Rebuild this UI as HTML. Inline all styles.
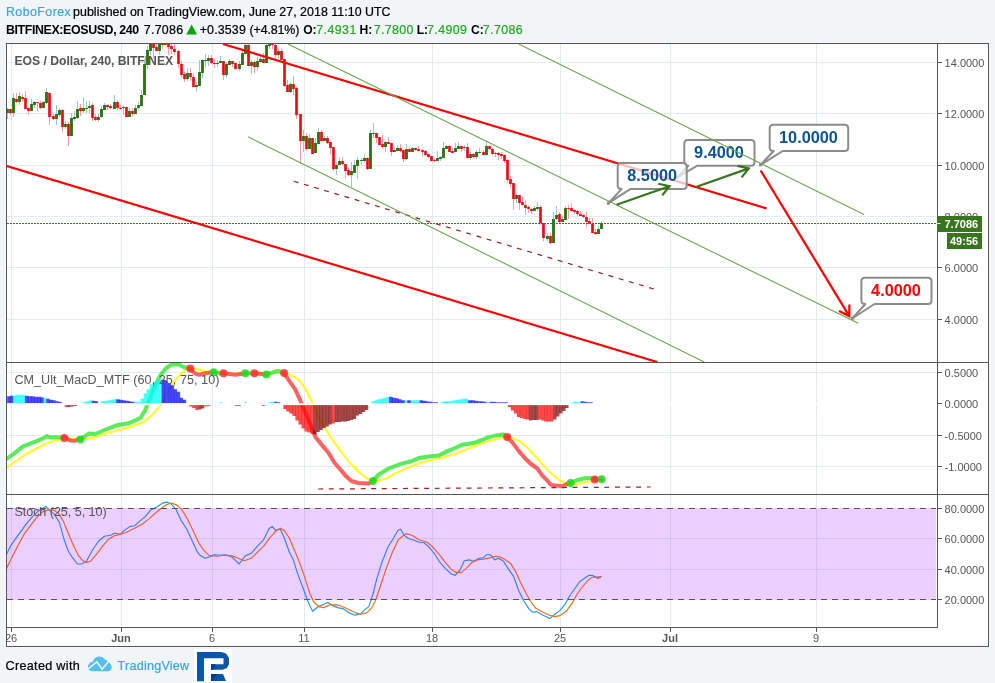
<!DOCTYPE html>
<html><head><meta charset="utf-8"><title>EOSUSD chart</title>
<style>
html,body{margin:0;padding:0}
body{width:995px;height:683px;background:#f1f5f8;overflow:hidden;position:relative;font-family:"Liberation Sans",sans-serif;color:#111}
svg{position:absolute;left:0;top:0}
svg text{font-family:"Liberation Sans",sans-serif}
.ax{font-size:11px;fill:#555}
.pt{font-size:13px;fill:#555}
.co{font-size:16.3px;font-weight:bold}
</style></head><body>
<svg width="995" height="683" viewBox="0 0 995 683">
<defs><clipPath id="c1"><rect x="7" y="44" width="930" height="318"/></clipPath><clipPath id="c2"><rect x="7" y="363" width="930" height="131"/></clipPath><clipPath id="c3"><rect x="7" y="495" width="930" height="132"/></clipPath><clipPath id="c4"><rect x="7" y="628" width="981" height="18"/></clipPath></defs><text id="h1a" x="5.9" y="15.7" font-size="12.4" fill="#3ca6de" stroke="#3ca6de" stroke-width="0.22" letter-spacing="0.449">RoboForex</text><text id="h1b" x="73.1" y="15.7" font-size="12.4" fill="#000" stroke="#000" stroke-width="0.22" letter-spacing="0.034">published on TradingView.com, June 27, 2018 11:10 UTC</text><text id="h2a" x="5.9" y="33.5" font-size="12.4" font-weight="bold" fill="#000" letter-spacing="-0.373">BITFINEX:EOSUSD, 240</text><text id="h2b" x="143.8" y="33.5" font-size="12.4" fill="#000" stroke="#000" stroke-width="0.22" letter-spacing="0.276">7.7086</text><text id="h2c" x="199.7" y="33.5" font-size="12.4" fill="#000" stroke="#000" stroke-width="0.22" letter-spacing="0.158">+0.3539</text><text id="h2d" x="249.6" y="33.5" font-size="12.4" fill="#000" stroke="#000" stroke-width="0.22" letter-spacing="-0.134">(+4.81%)</text><text id="h2e" x="303.2" y="33.5" font-size="12.1" font-weight="bold" fill="#000" letter-spacing="0.000">O:</text><text id="h2f" x="316.3" y="33.5" font-size="12.4" fill="#22a922" stroke="#22a922" stroke-width="0.22" letter-spacing="0.416">7.4931</text><text id="h2g" x="359.6" y="33.5" font-size="12.1" font-weight="bold" fill="#000" letter-spacing="0.000">H:</text><text id="h2h" x="373.7" y="33.5" font-size="12.4" fill="#22a922" stroke="#22a922" stroke-width="0.22" letter-spacing="0.356">7.7800</text><text id="h2i" x="416.7" y="33.5" font-size="12.1" font-weight="bold" fill="#000" letter-spacing="0.000">L:</text><text id="h2j" x="427.1" y="33.5" font-size="12.4" fill="#22a922" stroke="#22a922" stroke-width="0.22" letter-spacing="0.356">7.4909</text><text id="h2k" x="471.0" y="33.5" font-size="12.1" font-weight="bold" fill="#000" letter-spacing="0.000">C:</text><text id="h2l" x="482.8" y="33.5" font-size="12.4" fill="#22a922" stroke="#22a922" stroke-width="0.22" letter-spacing="0.376">7.7086</text><text id="ft" x="5.5" y="669.6" font-size="12.6" fill="#000" stroke="#000" stroke-width="0.22" letter-spacing="0.319">Created with</text><text id="tv" x="117.5" y="669.6" font-size="12.6" fill="#3ca6de" stroke="#3ca6de" stroke-width="0.22" letter-spacing="0.240">TradingView</text><path d="M186.3 34.5L191.65 24.4L197 34.5Z" fill="#0ca40c"/><rect x="5.5" y="42.5" width="984" height="605" fill="none" stroke="#fff" stroke-opacity="0.4" stroke-width="1"/>
<rect x="6.5" y="43.5" width="982" height="603" fill="#fff" stroke="#555" stroke-width="1"/>
<path d="M11.5 44V626M121.5 44V626M212.5 44V626M304.5 44V626M432.5 44V626M560.5 44V626M670.5 44V626M816.5 44V626M7 62.5H936M7 113.5H936M7 165.5H936M7 216.5H936M7 267.5H936M7 319.5H936M7 372.5H936M7 435.5H936M7 466.5H936M7 538.5H936M7 569.5H936" stroke="#e1ecf2" stroke-width="1" fill="none"/>
<g clip-path="url(#c1)">
<text id="t1" x="14.5" y="64.7" font-size="12.2" font-weight="bold" fill="#555" letter-spacing="-0.020">EOS / Dollar, 240, BITFINEX</text>
<path d="M7.5 108V119M13.5 93V117M19.5 92V105M31.5 99V111M34.5 101V108M43.5 101V108M46.5 88V104M56.5 105V125M59.5 108V117M65.5 121V129M71.5 113V136M74.5 111V121M77.5 101V119M83.5 97V113M86.5 101V113M89.5 101V113M98.5 114V122M101.5 106V118M104.5 103V110M114.5 95V109M123.5 105V115M129.5 108V117M135.5 105V114M138.5 102V110M141.5 90V106M144.5 59V95M147.5 46V69M150.5 43V55M159.5 43V55M165.5 43V45M187.5 68V81M196.5 82V92M199.5 60V86M202.5 59V78M205.5 54V67M208.5 55V66M217.5 60V67M220.5 56V63M226.5 62V78M229.5 59V65M239.5 61V71M242.5 49V65M245.5 43V54M251.5 60V74M257.5 57V71M260.5 56V62M266.5 43V63M269.5 43V49M278.5 49V58M290.5 82V93M303.5 130V152M309.5 134V149M315.5 138V153M318.5 128V144M324.5 136V141M336.5 162V175M339.5 157V165M351.5 162V187M354.5 160V173M357.5 157V179M361.5 158V165M364.5 154V163M370.5 130V169M373.5 123V138M385.5 141V152M394.5 147V152M397.5 145V151M406.5 144V160M412.5 147V152M437.5 151V161M440.5 156V161M443.5 142V158M446.5 145V149M455.5 143V152M458.5 142V149M464.5 145V151M470.5 152V160M476.5 150V159M479.5 148V154M486.5 142V155M516.5 194V203M534.5 206V211M537.5 202V211M547.5 233V241M553.5 212V243M556.5 206V220M562.5 216V222M565.5 206V220M598.5 226V234M601.5 221V229" stroke="#9fc5d3" stroke-width="1" fill="none"/>
<path d="M10.5 109V115M16.5 93V103M22.5 94V101M25.5 91V109M28.5 108V115M37.5 102V111M40.5 101V109M49.5 92V125M53.5 114V120M62.5 109V132M68.5 122V146M80.5 104V116M92.5 103V121M95.5 114V121M107.5 104V110M110.5 104V109M117.5 100V110M120.5 105V110M126.5 106V117M132.5 108V116M153.5 43V59M156.5 43V51M162.5 43V49M168.5 43V55M171.5 43V54M174.5 43V55M178.5 50V68M181.5 61V78M184.5 72V82M190.5 68V81M193.5 73V87M211.5 55V64M214.5 59V68M223.5 61V80M232.5 61V67M235.5 63V69M248.5 43V66M254.5 61V73M263.5 53V63M272.5 43V49M275.5 43V59M281.5 48V60M284.5 59V87M287.5 80V92M293.5 76V95M296.5 87V119M300.5 114V164M306.5 133V151M312.5 138V154M321.5 130V141M327.5 136V144M330.5 142V154M333.5 147V171M342.5 157V165M345.5 164V178M348.5 168V176M367.5 157V170M376.5 133V143M379.5 137V145M382.5 135V149M388.5 137V144M391.5 143V156M400.5 144V152M403.5 150V162M409.5 147V152M415.5 148V151M418.5 146V151M422.5 149V156M425.5 150V156M428.5 154V158M431.5 156V161M434.5 159V162M449.5 145V152M452.5 148V153M461.5 146V152M467.5 143V158M473.5 153V158M483.5 150V155M489.5 146V150M492.5 148V155M495.5 152V157M498.5 152V160M501.5 152V159M504.5 154V163M507.5 159V183M510.5 176V188M513.5 183V210M519.5 195V210M522.5 196V205M525.5 200V215M528.5 205V213M531.5 208V214M540.5 205V225M543.5 223V241M550.5 233V244M559.5 212V223M568.5 205V219M571.5 203V211M574.5 210V214M577.5 210V216M580.5 211V216M583.5 214V218M586.5 211V227M589.5 218V224M592.5 218V233M595.5 229V235" stroke="#f8a0aa" stroke-width="1" fill="none"/>
<path d="M6 109h3v4h-3zM12 98h3v15h-3zM18 96h3v6h-3zM30 104h3v7h-3zM33 102h3v3h-3zM42 102h3v6h-3zM45 92h3v11h-3zM55 114h3v5h-3zM58 110h3v5h-3zM64 124h3v3h-3zM70 118h3v18h-3zM73 117h3v2h-3zM76 109h3v9h-3zM82 108h3v3h-3zM85 108h3v1h-3zM88 106h3v2h-3zM97 117h3v3h-3zM100 109h3v8h-3zM103 105h3v5h-3zM113 102h3v7h-3zM122 107h3v1h-3zM128 111h3v6h-3zM134 108h3v6h-3zM137 105h3v3h-3zM140 95h3v11h-3zM143 64h3v31h-3zM146 50h3v15h-3zM149 43h3v8h-3zM158 43h3v8h-3zM164 43h3v2h-3zM186 73h3v6h-3zM195 85h3v2h-3zM198 72h3v14h-3zM201 60h3v13h-3zM204 60h3v1h-3zM207 58h3v3h-3zM216 63h3v1h-3zM219 61h3v2h-3zM225 64h3v11h-3zM228 61h3v4h-3zM238 64h3v5h-3zM241 53h3v12h-3zM244 45h3v9h-3zM250 62h3v4h-3zM256 61h3v6h-3zM259 59h3v3h-3zM265 45h3v18h-3zM268 43h3v3h-3zM277 51h3v4h-3zM289 84h3v8h-3zM302 136h3v5h-3zM308 138h3v11h-3zM314 143h3v10h-3zM317 132h3v12h-3zM323 138h3v3h-3zM335 165h3v4h-3zM338 161h3v4h-3zM350 171h3v4h-3zM353 165h3v8h-3zM356 160h3v6h-3zM360 160h3v1h-3zM363 158h3v3h-3zM369 133h3v36h-3zM372 133h3v1h-3zM384 142h3v5h-3zM393 150h3v2h-3zM396 148h3v3h-3zM405 149h3v10h-3zM411 148h3v4h-3zM436 158h3v3h-3zM439 157h3v2h-3zM442 148h3v10h-3zM445 146h3v3h-3zM454 148h3v4h-3zM457 146h3v3h-3zM463 147h3v1h-3zM469 154h3v4h-3zM475 152h3v5h-3zM478 152h3v1h-3zM485 146h3v9h-3zM515 195h3v4h-3zM533 208h3v3h-3zM536 207h3v2h-3zM546 236h3v3h-3zM552 219h3v24h-3zM555 215h3v4h-3zM561 219h3v3h-3zM564 208h3v12h-3zM597 229h3v5h-3zM600 223h3v6h-3z" fill="#3b7d20"/>
<path d="M9 109h3v4h-3zM15 99h3v3h-3zM21 97h3v2h-3zM24 98h3v11h-3zM27 108h3v3h-3zM36 102h3v1h-3zM39 103h3v5h-3zM48 93h3v24h-3zM52 116h3v3h-3zM61 110h3v17h-3zM67 124h3v12h-3zM79 108h3v3h-3zM91 105h3v13h-3zM94 117h3v3h-3zM106 105h3v2h-3zM109 106h3v2h-3zM116 102h3v6h-3zM119 108h3v1h-3zM125 107h3v10h-3zM131 111h3v3h-3zM152 43h3v5h-3zM155 47h3v4h-3zM161 43h3v2h-3zM167 43h3v4h-3zM170 46h3v3h-3zM173 49h3v3h-3zM177 51h3v13h-3zM180 64h3v11h-3zM183 74h3v5h-3zM189 73h3v4h-3zM192 77h3v10h-3zM210 58h3v5h-3zM213 63h3v1h-3zM222 61h3v14h-3zM231 61h3v3h-3zM234 63h3v6h-3zM247 45h3v21h-3zM253 62h3v5h-3zM262 59h3v4h-3zM271 43h3v2h-3zM274 45h3v10h-3zM280 51h3v9h-3zM283 59h3v27h-3zM286 85h3v7h-3zM292 84h3v5h-3zM295 88h3v27h-3zM299 114h3v27h-3zM305 136h3v13h-3zM311 138h3v16h-3zM320 132h3v9h-3zM326 138h3v5h-3zM329 142h3v6h-3zM332 147h3v22h-3zM341 161h3v3h-3zM344 164h3v7h-3zM347 170h3v5h-3zM366 158h3v11h-3zM375 133h3v5h-3zM378 137h3v8h-3zM381 144h3v3h-3zM387 142h3v2h-3zM390 143h3v9h-3zM399 148h3v3h-3zM402 150h3v9h-3zM408 149h3v3h-3zM414 148h3v2h-3zM417 149h3v2h-3zM421 150h3v2h-3zM424 151h3v4h-3zM427 154h3v3h-3zM430 156h3v5h-3zM433 160h3v1h-3zM448 146h3v6h-3zM451 151h3v2h-3zM460 146h3v3h-3zM466 147h3v11h-3zM472 154h3v3h-3zM482 152h3v3h-3zM488 146h3v3h-3zM491 149h3v5h-3zM494 153h3v1h-3zM497 153h3v2h-3zM500 154h3v2h-3zM503 155h3v6h-3zM506 160h3v20h-3zM509 179h3v5h-3zM512 183h3v16h-3zM518 195h3v8h-3zM521 202h3v3h-3zM524 205h3v3h-3zM527 207h3v2h-3zM530 209h3v2h-3zM539 207h3v16h-3zM542 223h3v15h-3zM549 236h3v7h-3zM558 214h3v8h-3zM567 208h3v1h-3zM570 208h3v3h-3zM573 210h3v2h-3zM576 211h3v3h-3zM579 214h3v2h-3zM582 215h3v2h-3zM585 217h3v5h-3zM588 221h3v3h-3zM591 224h3v9h-3zM594 232h3v2h-3z" fill="#f9303f"/>
<path d="M7.5 109V113M13.5 98V113M19.5 96V102M31.5 104V111M34.5 102V105M43.5 102V108M46.5 92V103M56.5 114V119M59.5 110V115M65.5 124V127M71.5 118V136M74.5 117V119M77.5 109V118M83.5 108V111M86.5 108V109M89.5 106V108M98.5 117V120M101.5 109V117M104.5 105V110M114.5 102V109M123.5 107V108M129.5 111V117M135.5 108V114M138.5 105V108M141.5 95V106M144.5 64V95M147.5 50V65M150.5 43V51M159.5 43V51M165.5 43V45M187.5 73V79M196.5 85V87M199.5 72V86M202.5 60V73M205.5 60V61M208.5 58V61M217.5 63V64M220.5 61V63M226.5 64V75M229.5 61V65M239.5 64V69M242.5 53V65M245.5 45V54M251.5 62V66M257.5 61V67M260.5 59V62M266.5 45V63M269.5 43V46M278.5 51V55M290.5 84V92M303.5 136V141M309.5 138V149M315.5 143V153M318.5 132V144M324.5 138V141M336.5 165V169M339.5 161V165M351.5 171V175M354.5 165V173M357.5 160V166M361.5 160V161M364.5 158V161M370.5 133V169M373.5 133V134M385.5 142V147M394.5 150V152M397.5 148V151M406.5 149V159M412.5 148V152M437.5 158V161M440.5 157V159M443.5 148V158M446.5 146V149M455.5 148V152M458.5 146V149M464.5 147V148M470.5 154V158M476.5 152V157M479.5 152V153M486.5 146V155M516.5 195V199M534.5 208V211M537.5 207V209M547.5 236V239M553.5 219V243M556.5 215V219M562.5 219V222M565.5 208V220M598.5 229V234M601.5 223V229" stroke="#2f6f17" stroke-width="1" fill="none"/>
<path d="M10.5 109V113M16.5 99V102M22.5 97V99M25.5 98V109M28.5 108V111M37.5 102V103M40.5 103V108M49.5 93V117M53.5 116V119M62.5 110V127M68.5 124V136M80.5 108V111M92.5 105V118M95.5 117V120M107.5 105V107M110.5 106V108M117.5 102V108M120.5 108V109M126.5 107V117M132.5 111V114M153.5 43V48M156.5 47V51M162.5 43V45M168.5 43V47M171.5 46V49M174.5 49V52M178.5 51V64M181.5 64V75M184.5 74V79M190.5 73V77M193.5 77V87M211.5 58V63M214.5 63V64M223.5 61V75M232.5 61V64M235.5 63V69M248.5 45V66M254.5 62V67M263.5 59V63M272.5 43V45M275.5 45V55M281.5 51V60M284.5 59V86M287.5 85V92M293.5 84V89M296.5 88V115M300.5 114V141M306.5 136V149M312.5 138V154M321.5 132V141M327.5 138V143M330.5 142V148M333.5 147V169M342.5 161V164M345.5 164V171M348.5 170V175M367.5 158V169M376.5 133V138M379.5 137V145M382.5 144V147M388.5 142V144M391.5 143V152M400.5 148V151M403.5 150V159M409.5 149V152M415.5 148V150M418.5 149V151M422.5 150V152M425.5 151V155M428.5 154V157M431.5 156V161M434.5 160V161M449.5 146V152M452.5 151V153M461.5 146V149M467.5 147V158M473.5 154V157M483.5 152V155M489.5 146V149M492.5 149V154M495.5 153V154M498.5 153V155M501.5 154V156M504.5 155V161M507.5 160V180M510.5 179V184M513.5 183V199M519.5 195V203M522.5 202V205M525.5 205V208M528.5 207V209M531.5 209V211M540.5 207V223M543.5 223V238M550.5 236V243M559.5 214V222M568.5 208V209M571.5 208V211M574.5 210V212M577.5 211V214M580.5 214V216M583.5 215V217M586.5 217V222M589.5 221V224M592.5 224V233M595.5 232V234" stroke="#ff0000" stroke-width="1" fill="none"/>
<path d="M7 223.5H936" stroke="#38761d" stroke-width="1" stroke-dasharray="2 1" fill="none"/>
<path d="M293.7 181.2L657.2 290" stroke="#a61c1c" stroke-width="1.2" stroke-dasharray="4.9 5.7" fill="none"/>
<path d="M223 44L766.6 208.4M7 166.1L657.2 362" stroke="#ff0000" stroke-width="2.15" fill="none"/>
<path d="M687.8 140.1H751Q754.5 140.1 754.5 143.6V162.2Q754.5 165.7 751 165.7H697.3L677 177.6L688.3 165.7H687.8Q684.3 165.7 684.3 162.2V143.6Q684.3 140.1 687.8 140.1Z" fill="rgba(255,255,255,0.72)" stroke="#8c8c8c" stroke-width="2" stroke-linejoin="round"/><rect x="675.5" y="176.1" width="3" height="3" fill="#8c8c8c"/><text x="719" y="158" text-anchor="middle" class="co" fill="#0b5394" id="co2">9.4000</text>
<path d="M621.2 162.9H683.2Q686.7 162.9 686.7 166.4V185.4Q686.7 188.9 683.2 188.9H630.7L608.4 203.2L621.7 188.9H621.2Q617.7 188.9 617.7 185.4V166.4Q617.7 162.9 621.2 162.9Z" fill="rgba(255,255,255,0.72)" stroke="#8c8c8c" stroke-width="2" stroke-linejoin="round"/><rect x="606.9" y="201.7" width="3" height="3" fill="#8c8c8c"/><text x="652.2" y="181" text-anchor="middle" class="co" fill="#0b5394" id="co1">8.5000</text>
<path d="M773.2 124.8H844.7Q848.2 124.8 848.2 128.3V147.5Q848.2 151 844.7 151H782.7L760.5 164.9L773.7 151H773.2Q769.7 151 769.7 147.5V128.3Q769.7 124.8 773.2 124.8Z" fill="rgba(255,255,255,0.72)" stroke="#8c8c8c" stroke-width="2" stroke-linejoin="round"/><rect x="759" y="163.4" width="3" height="3" fill="#8c8c8c"/><text x="808.5" y="143" text-anchor="middle" class="co" fill="#0b5394" id="co3">10.0000</text>
<path d="M864.9 277.7H928Q931.5 277.7 931.5 281.2V300.5Q931.5 304 928 304H874.4L852.2 318.5L865.4 304H864.9Q861.4 304 861.4 300.5V281.2Q861.4 277.7 864.9 277.7Z" fill="rgba(255,255,255,0.72)" stroke="#8c8c8c" stroke-width="2" stroke-linejoin="round"/><rect x="850.7" y="317" width="3" height="3" fill="#8c8c8c"/><text x="896" y="296" text-anchor="middle" class="co" fill="#ff0000" id="co4">4.0000</text>
<path d="M518.7 44L864 214.5M287.9 44L858.2 323.3M248 136.8L704.2 362" stroke="#6aa84f" stroke-width="1.1" fill="none"/>
<path d="M616.6 204.7L669.5 186.2M662.3 195.2L669.5 186.2L658.3 183.7" stroke="#38761d" stroke-width="2.2" fill="none"/>
<path d="M696.6 186.8L748.8 168.4M741.6 177.4L748.8 168.4L737.6 165.9" stroke="#38761d" stroke-width="2.2" fill="none"/>
<path d="M760.7 170.5L849.3 316.1M839 310.9L849.3 316.1L849.4 304.6" stroke="#ff0000" stroke-width="2.2" fill="none"/>
</g>
<g clip-path="url(#c2)">
<path d="M6 468.1L26.1 454L46.2 443.4L62.3 439L76.4 438.4L92.4 438L106.5 433.4L122.6 429.3L142.7 422.7L150.7 416.3L160.8 405.2L167.7 392.2L175.2 380.1L182.8 371.8L188.8 368.8L196.3 368.8L205.4 371.3L212.9 372.6L223.5 372.9L235.5 373.8L250.6 373.8L265.7 373.8L274 372.8L282 372.5L290.1 374.5L298.1 379.1L305.2 388.1L311.2 400.2L318.2 416.3L326.3 430.3L334.3 442.4L342.4 453.5L350.4 463.5L358.4 471.5L366.5 478.2L372.5 481.6L378.5 480.6L386.6 478.2L394.6 473.6L406.7 468.1L418.7 463.5L430.8 460.1L442.9 457.5L454.9 454.1L463 450.8L472.1 446.8L484.1 442.4L496.2 439.4L503.2 437L512.3 438L520.3 441.4L528.3 448.4L536.4 457.5L544.4 466.5L552.5 474.6L560.5 480.6L566.5 483.6L572.6 484.6L580.6 483.6L588.6 481.6L594.7 480.2L601.7 479.6" stroke="#ffff00" stroke-width="2" fill="none" stroke-linejoin="round" stroke-opacity="0.92"/>
<path d="M6 459.5L14 453.5L23 446.4L36 441.4L45 437.4L47 436L49 437L64.3 437.4" stroke="#30ea30" stroke-width="4" fill="none" stroke-linejoin="round" stroke-linecap="round" stroke-opacity="0.8"/>
<path d="M64.3 437.4L70.3 440.4L74.3 440.8L80.4 439" stroke="#ff3b3b" stroke-width="4" fill="none" stroke-linejoin="round" stroke-linecap="round" stroke-opacity="0.8"/>
<path d="M80.4 439L89.4 433.4L95.4 434L104.5 430L116.6 425.3L128.6 423.3L136 420L140.6 417.8L145.1 410.2L149.6 399.7L154.1 387.6L160.2 375.6L166.2 368L171.5 364.7L178.2 364.3L184.3 367.3L190.3 368.8" stroke="#30ea30" stroke-width="4" fill="none" stroke-linejoin="round" stroke-linecap="round" stroke-opacity="0.8"/>
<path d="M190.3 368.8L194.8 373.3L199.4 374.8L205.4 373.3L212.9 372.3L213.7 372.4" stroke="#ff3b3b" stroke-width="4" fill="none" stroke-linejoin="round" stroke-linecap="round" stroke-opacity="0.8"/>
<path d="M213.7 372.4L223.5 373.3" stroke="#30ea30" stroke-width="4" fill="none" stroke-linejoin="round" stroke-linecap="round" stroke-opacity="0.8"/>
<path d="M223.5 373.3L235.5 374.8L245.3 373.3" stroke="#ff3b3b" stroke-width="4" fill="none" stroke-linejoin="round" stroke-linecap="round" stroke-opacity="0.8"/>
<path d="M245.3 373.3L254.4 373.3" stroke="#30ea30" stroke-width="4" fill="none" stroke-linejoin="round" stroke-linecap="round" stroke-opacity="0.8"/>
<path d="M254.4 373.3L266.4 374.4" stroke="#ff3b3b" stroke-width="4" fill="none" stroke-linejoin="round" stroke-linecap="round" stroke-opacity="0.8"/>
<path d="M266.4 374.4L274.7 371.8L278 371L284.1 373.1" stroke="#30ea30" stroke-width="4" fill="none" stroke-linejoin="round" stroke-linecap="round" stroke-opacity="0.8"/>
<path d="M284.1 373.1L290.1 382.1L295.1 389.1L300.2 400.2L305.2 412.3L310.2 424.3L315.2 436.4L322.3 445.4L328.3 452.5L334.3 462.5L340.4 469.5L346.4 476.6L351.4 481L358.4 483L368.5 483.6L372.9 481" stroke="#ff3b3b" stroke-width="4" fill="none" stroke-linejoin="round" stroke-linecap="round" stroke-opacity="0.8"/>
<path d="M372.9 481L378.5 474.6L388.6 468.5L400.7 463.9L410.7 461.5L418.7 458.1L428.8 456.5L438.8 455.5L446.9 451.4L454.9 448L463 444.4L468 444L474.1 442.8L482.1 440L488.1 437.4L496.2 435.4L503.2 434.4L507.2 437" stroke="#30ea30" stroke-width="4" fill="none" stroke-linejoin="round" stroke-linecap="round" stroke-opacity="0.8"/>
<path d="M507.2 437L512.3 442.4L518.3 450.4L524.3 457.5L530.4 463.5L537.4 468.5L542.4 475.6L546.4 479.6L550.5 484.6L556.5 485.6L562.5 486.2L566.5 484.2L570.6 483" stroke="#ff3b3b" stroke-width="4" fill="none" stroke-linejoin="round" stroke-linecap="round" stroke-opacity="0.8"/>
<path d="M570.6 483L576.6 480.2L584.6 478.2L590.7 478L594.7 479.6" stroke="#30ea30" stroke-width="4" fill="none" stroke-linejoin="round" stroke-linecap="round" stroke-opacity="0.8"/>
<path d="M594.7 479.6L601.7 479.2" stroke="#ff3b3b" stroke-width="4" fill="none" stroke-linejoin="round" stroke-linecap="round" stroke-opacity="0.8"/>
<circle cx="64.3" cy="438" r="4" fill="#ff3030" fill-opacity="0.85"/>
<circle cx="80.4" cy="439.4" r="4" fill="#1fdc1f" fill-opacity="0.85"/>
<circle cx="190.3" cy="368.6" r="4" fill="#ff3030" fill-opacity="0.85"/>
<circle cx="213.7" cy="372.3" r="4" fill="#1fdc1f" fill-opacity="0.85"/>
<circle cx="223.5" cy="373.3" r="4" fill="#ff3030" fill-opacity="0.85"/>
<circle cx="245.3" cy="373.3" r="4" fill="#1fdc1f" fill-opacity="0.85"/>
<circle cx="254.4" cy="373.3" r="4" fill="#ff3030" fill-opacity="0.85"/>
<circle cx="266.4" cy="374.4" r="4" fill="#1fdc1f" fill-opacity="0.85"/>
<circle cx="284.1" cy="373.1" r="4" fill="#ff3030" fill-opacity="0.85"/>
<circle cx="372.9" cy="481" r="4" fill="#1fdc1f" fill-opacity="0.85"/>
<circle cx="507.2" cy="437" r="4" fill="#ff3030" fill-opacity="0.85"/>
<circle cx="570.6" cy="483" r="4" fill="#1fdc1f" fill-opacity="0.85"/>
<circle cx="594.7" cy="479.6" r="4" fill="#ff3030" fill-opacity="0.85"/>
<circle cx="601.7" cy="479.2" r="4" fill="#1fdc1f" fill-opacity="0.85"/>
<path d="M13.2 395.3h3.035v8h-3.035zM16.2 394.8h3.035v8.5h-3.035zM19.2 394.8h3.035v8.5h-3.035zM22.3 394.8h3.035v8.5h-3.035zM43.5 397.8h3.035v5.5h-3.035zM83 401.8h3.035v1.5h-3.035zM86 401.3h3.035v2h-3.035zM89 400.3h3.035v3h-3.035zM101.2 401.3h3.035v2h-3.035zM104.2 400.8h3.035v2.5h-3.035zM107.3 400.3h3.035v3h-3.035zM110.3 399.8h3.035v3.5h-3.035zM113.3 399.3h3.035v4h-3.035zM134.6 401.8h3.035v1.5h-3.035zM137.6 401.8h3.035v1.5h-3.035zM140.6 398.8h3.035v4.5h-3.035zM143.7 393.3h3.035v10h-3.035zM146.7 389.3h3.035v14h-3.035zM149.7 384.3h3.035v19h-3.035zM152.8 381.8h3.035v21.5h-3.035zM155.8 380.3h3.035v23h-3.035zM158.8 379.8h3.035v23.5h-3.035zM219.6 402.3h3.035v1h-3.035zM243.8 402.3h3.035v1h-3.035zM268.1 402.3h3.035v1h-3.035zM271.1 401.8h3.035v1.5h-3.035zM371.3 401.3h3.035v2h-3.035zM374.3 400.3h3.035v3h-3.035zM377.4 399.3h3.035v4h-3.035zM380.4 398.8h3.035v4.5h-3.035zM383.4 397.8h3.035v5.5h-3.035zM386.5 396.8h3.035v6.5h-3.035zM404.7 400.3h3.035v3h-3.035zM410.8 400.3h3.035v3h-3.035zM413.8 400.3h3.035v3h-3.035zM416.8 400.3h3.035v3h-3.035zM441.1 401.8h3.035v1.5h-3.035zM444.1 401.3h3.035v2h-3.035zM447.2 401.3h3.035v2h-3.035zM450.2 400.8h3.035v2.5h-3.035zM453.2 400.3h3.035v3h-3.035zM456.3 399.8h3.035v3.5h-3.035zM459.3 399.3h3.035v4h-3.035zM462.4 398.8h3.035v4.5h-3.035zM465.4 398.8h3.035v4.5h-3.035zM486.6 401.8h3.035v1.5h-3.035zM571.6 402.3h3.035v1h-3.035zM574.6 401.8h3.035v1.5h-3.035zM577.7 401.8h3.035v1.5h-3.035z" fill="#00ffff" fill-opacity="0.7"/>
<path d="M13.2 395.8V403.3M16.2 395.3V403.3M19.2 394.8V403.3M22.3 394.8V403.3M43.5 397.8V403.3M89 401.3V403.3M104.2 401.3V403.3M107.3 400.8V403.3M110.3 400.3V403.3M113.3 399.8V403.3M143.7 398.8V403.3M146.7 393.3V403.3M149.7 389.3V403.3M152.8 384.3V403.3M155.8 381.8V403.3M158.8 380.3V403.3M374.3 401.3V403.3M377.4 400.3V403.3M380.4 399.3V403.3M383.4 398.8V403.3M386.5 397.8V403.3M404.7 400.3V403.3M410.8 400.3V403.3M413.8 400.3V403.3M416.8 400.3V403.3M447.2 401.3V403.3M450.2 401.3V403.3M453.2 400.8V403.3M456.3 400.3V403.3M459.3 399.8V403.3M462.4 399.3V403.3M465.4 398.8V403.3" stroke="#00ffff" stroke-opacity="0.55" stroke-width="0.7" fill="none"/>
<path d="M7.1 396.3h3.035v7h-3.035zM10.1 395.8h3.035v7.5h-3.035zM25.3 395.8h3.035v7.5h-3.035zM28.3 396.3h3.035v7h-3.035zM31.4 396.3h3.035v7h-3.035zM34.4 396.8h3.035v6.5h-3.035zM37.5 396.8h3.035v6.5h-3.035zM40.5 397.3h3.035v6h-3.035zM46.6 398.8h3.035v4.5h-3.035zM49.6 399.8h3.035v3.5h-3.035zM52.6 400.3h3.035v3h-3.035zM55.7 401.3h3.035v2h-3.035zM58.7 401.8h3.035v1.5h-3.035zM92.1 400.8h3.035v2.5h-3.035zM95.1 401.3h3.035v2h-3.035zM116.4 399.3h3.035v4h-3.035zM119.4 399.8h3.035v3.5h-3.035zM122.4 400.3h3.035v3h-3.035zM125.5 400.8h3.035v2.5h-3.035zM128.5 401.3h3.035v2h-3.035zM131.5 401.8h3.035v1.5h-3.035zM161.9 379.8h3.035v23.5h-3.035zM164.9 380.3h3.035v23h-3.035zM168 383.3h3.035v20h-3.035zM171 385.3h3.035v18h-3.035zM174 389.3h3.035v14h-3.035zM177.1 391.8h3.035v11.5h-3.035zM180.1 397.8h3.035v5.5h-3.035zM183.1 399.8h3.035v3.5h-3.035zM274.2 401.8h3.035v1.5h-3.035zM277.2 402.3h3.035v1h-3.035zM389.5 396.8h3.035v6.5h-3.035zM392.5 397.8h3.035v5.5h-3.035zM395.6 398.3h3.035v5h-3.035zM398.6 399.3h3.035v4h-3.035zM401.7 400.3h3.035v3h-3.035zM407.7 400.3h3.035v3h-3.035zM419.9 400.3h3.035v3h-3.035zM422.9 400.8h3.035v2.5h-3.035zM425.9 401.3h3.035v2h-3.035zM429 401.8h3.035v1.5h-3.035zM432 402.3h3.035v1h-3.035zM435 402.3h3.035v1h-3.035zM468.4 400.3h3.035v3h-3.035zM471.5 400.3h3.035v3h-3.035zM474.5 400.8h3.035v2.5h-3.035zM477.5 401.3h3.035v2h-3.035zM480.6 401.3h3.035v2h-3.035zM483.6 401.8h3.035v1.5h-3.035zM489.7 401.8h3.035v1.5h-3.035zM492.7 401.8h3.035v1.5h-3.035zM495.7 402.3h3.035v1h-3.035zM498.8 402.3h3.035v1h-3.035zM501.8 402.3h3.035v1h-3.035zM504.8 402.3h3.035v1h-3.035zM580.7 401.3h3.035v2h-3.035zM583.8 401.8h3.035v1.5h-3.035zM586.8 402.3h3.035v1h-3.035zM589.8 402.3h3.035v1h-3.035z" fill="#0000ff" fill-opacity="0.7"/>
<path d="M10.1 396.3V403.3M25.3 395.8V403.3M28.3 396.3V403.3M31.4 396.3V403.3M34.4 396.8V403.3M37.5 396.8V403.3M40.5 397.3V403.3M46.6 398.8V403.3M49.6 399.8V403.3M52.6 400.3V403.3M55.7 401.3V403.3M92.1 400.8V403.3M95.1 401.3V403.3M116.4 399.3V403.3M119.4 399.8V403.3M122.4 400.3V403.3M125.5 400.8V403.3M128.5 401.3V403.3M161.9 379.8V403.3M164.9 380.3V403.3M168 383.3V403.3M171 385.3V403.3M174 389.3V403.3M177.1 391.8V403.3M180.1 397.8V403.3M183.1 399.8V403.3M389.5 396.8V403.3M392.5 397.8V403.3M395.6 398.3V403.3M398.6 399.3V403.3M401.7 400.3V403.3M407.7 400.3V403.3M419.9 400.3V403.3M422.9 400.8V403.3M425.9 401.3V403.3M468.4 400.3V403.3M471.5 400.3V403.3M474.5 400.8V403.3M477.5 401.3V403.3M480.6 401.3V403.3" stroke="#0000ff" stroke-opacity="0.55" stroke-width="0.7" fill="none"/>
<path d="M64.8 405h3.035v2h-3.035zM189.2 405h3.035v1.5h-3.035zM192.2 405h3.035v3h-3.035zM195.3 405h3.035v5h-3.035zM204.4 405h3.035v1.5h-3.035zM207.4 405h3.035v1h-3.035zM234.7 405h3.035v1h-3.035zM237.8 405h3.035v1h-3.035zM262 405h3.035v1h-3.035zM283.3 405h3.035v4h-3.035zM286.3 405h3.035v6.5h-3.035zM289.4 405h3.035v8.5h-3.035zM292.4 405h3.035v11h-3.035zM295.4 405h3.035v15.5h-3.035zM298.5 405h3.035v19.5h-3.035zM301.5 405h3.035v23.5h-3.035zM304.5 405h3.035v26.5h-3.035zM307.6 405h3.035v27.5h-3.035zM310.6 405h3.035v29h-3.035zM331.8 405h3.035v18.5h-3.035zM507.9 405h3.035v2h-3.035zM510.9 405h3.035v5.5h-3.035zM513.9 405h3.035v8.5h-3.035zM517 405h3.035v12h-3.035zM520 405h3.035v13h-3.035zM523.1 405h3.035v14h-3.035zM526.1 405h3.035v14.5h-3.035zM538.2 405h3.035v14.5h-3.035zM541.3 405h3.035v15.5h-3.035zM544.3 405h3.035v16.5h-3.035zM547.3 405h3.035v16.5h-3.035zM550.4 405h3.035v16.5h-3.035z" fill="#ff0000" fill-opacity="0.7"/>
<path d="M195.3 405V408M286.3 405V409M289.4 405V411.5M292.4 405V413.5M295.4 405V416M298.5 405V420.5M301.5 405V424.5M304.5 405V428.5M307.6 405V431.5M310.6 405V432.5M331.8 405V423.5M510.9 405V407M513.9 405V410.5M517 405V413.5M520 405V417M523.1 405V418M526.1 405V419M538.2 405V419.5M541.3 405V419.5M544.3 405V420.5M547.3 405V421.5M550.4 405V421.5" stroke="#ff0000" stroke-opacity="0.55" stroke-width="0.7" fill="none"/>
<path d="M67.8 405h3.035v2h-3.035zM70.8 405h3.035v1.5h-3.035zM73.9 405h3.035v1h-3.035zM198.3 405h3.035v4.5h-3.035zM201.3 405h3.035v3.5h-3.035zM313.6 405h3.035v29.5h-3.035zM316.7 405h3.035v27h-3.035zM319.7 405h3.035v25h-3.035zM322.7 405h3.035v23h-3.035zM325.8 405h3.035v21.5h-3.035zM328.8 405h3.035v19.5h-3.035zM334.9 405h3.035v17h-3.035zM337.9 405h3.035v17h-3.035zM341 405h3.035v16.5h-3.035zM344 405h3.035v16.5h-3.035zM347 405h3.035v16h-3.035zM350.1 405h3.035v15h-3.035zM353.1 405h3.035v14h-3.035zM356.1 405h3.035v10.5h-3.035zM359.2 405h3.035v9h-3.035zM362.2 405h3.035v7h-3.035zM365.2 405h3.035v5h-3.035zM529.1 405h3.035v15.5h-3.035zM532.2 405h3.035v15h-3.035zM535.2 405h3.035v15h-3.035zM553.4 405h3.035v14.5h-3.035zM556.4 405h3.035v11.5h-3.035zM559.5 405h3.035v8.5h-3.035zM562.5 405h3.035v6h-3.035zM565.5 405h3.035v3h-3.035z" fill="#800000" fill-opacity="0.7"/>
<path d="M67.8 405V407M198.3 405V409.5M201.3 405V408.5M313.6 405V434M316.7 405V432M319.7 405V430M322.7 405V428M325.8 405V426.5M328.8 405V424.5M334.9 405V422M337.9 405V422M341 405V421.5M344 405V421.5M347 405V421M350.1 405V420M353.1 405V419M356.1 405V415.5M359.2 405V414M362.2 405V412M365.2 405V410M529.1 405V419.5M532.2 405V420M535.2 405V420M553.4 405V419.5M556.4 405V416.5M559.5 405V413.5M562.5 405V411M565.5 405V408" stroke="#800000" stroke-opacity="0.55" stroke-width="0.7" fill="none"/>
<rect x="7" y="403.3" width="929" height="1.8" fill="#fff"/>
<path d="M318.2 489L650.6 487" stroke="#a61c1c" stroke-width="1.2" stroke-dasharray="4.9 5.7" fill="none"/>
<text id="t2" x="14.4" y="384.3" font-size="12.6" fill="#555" letter-spacing="0.043">CM_Ult_MacD_MTF (60, 25, 75, 10)</text>
</g>
<g clip-path="url(#c3)">
<path d="M6 555.3L11 545.3L16 538.2L21.1 531.2L26.1 524.2L32.1 517.1L38.2 511.1L43.2 508.1L46.2 506.5L49.2 510.1L54.2 514.1L59.3 522.2L64.3 540.2L68.3 551.3L72.3 557.3L77.4 564L81.4 564L86.4 561.3L92.4 550.3L98.5 541.2L104.5 536.2L110.5 535.2L114.5 533.2L120.6 534.2L124.6 530.2L129.6 526.6L134.6 525.8L139.7 521.1L144.7 517.1L150.7 510.1L156.8 507.1L162.8 503.1L166.8 502.1L170.8 503.7L175.8 509.1L180.9 520.1L186.9 529.2L191.9 540.2L197 551.3L200 555.3L205 558.3L210 556.7L214.1 554.7L220.1 555.3L226.1 554.7L232.2 557.3L239.2 564L245.2 555.9L251.3 553.3L257.3 546.3L263.3 540.2L269.3 528.2L272.4 526.6L275.4 530.2L280.4 529.2L284.4 538.2L289.4 552.3L293.5 560.3L297.5 573.4L302.5 586.5L307.5 600.5L312.6 611.2L318.6 606.2L323.6 604.6L327.6 602.6L332.7 605.6L337.7 607.6L342.7 608.6L348.7 612.6L354.8 615.2L360.8 613.6L364.8 609.6L368.8 606.6L372.9 594.5L376.9 578.4L381.9 562.4L387.9 547.3L394 537.2L398 530.2L400.6 529.2L404 535.2L408.1 538.2L414.1 540.2L419.1 542.3L424.1 542.7L429.2 547.3L434.2 553.3L439.2 561.3L445.3 568.4L451.3 574L455.3 575.4L460.3 569.4L464.3 560.7L469.4 559.9L473.4 561.3L479.4 558.3L483.4 557.9L486.5 554.7L490.5 554.7L494.5 559.9L498.5 558.3L503.5 561.3L508.6 569.4L513.6 576.4L518.6 590.5L523.6 600.5L528.7 608.6L532.7 612.2L536.7 611.6L542.7 615L549.8 618.6L554.8 614.2L559.8 610.6L564.8 604.6L569.9 595.5L574.9 588.5L579.9 581.4L584.9 578L589 575.3L592.2 575.3L594.6 576.5L597.9 578.5L601.5 576.5" stroke="#2196f3" stroke-width="1.15" fill="none" stroke-linejoin="round"/>
<path d="M6 569.4L12 557.3L18.1 545.3L24.1 534.2L30.1 526.2L36.2 518.1L42.2 512.1L48.2 509.7L53.2 510.1L58.3 513.1L63.3 521.1L68.3 533.2L73.3 545.3L78.4 555.3L82.4 560.3L86.4 562.4L90.4 561.3L96.5 554.3L102.5 546.3L108.5 539.2L114.5 535.8L120.6 534.2L126.6 532.2L134.6 528.2L142.7 523.8L148.7 519.1L154.7 513.7L160.8 508.5L166.8 504.5L171.8 503.1L176.9 505.1L181.9 509.7L186.9 518.1L192.9 530.2L199 543.3L204 550.3L209 555.3L216.1 556.3L224.1 555.3L232.2 555.9L238.2 558.3L244.2 560.7L251.3 558.3L257.3 552.3L264.3 545.3L270.4 537.2L276.4 530.6L280.4 528.2L284.4 530.6L289.4 538.2L294.5 550.3L299.5 562.4L304.5 576.4L309.5 592.5L313.6 601.5L318.6 606.6L323.6 607.6L329.6 605L335.7 604.6L341.7 606.2L348.7 609.6L354.8 612.6L360.8 614.2L366.8 612.6L371.9 607.6L375.9 599.5L380.9 584.5L385.9 569.4L392 553.3L398 540.2L400 538.2L406.1 533.6L412.1 535.2L419.1 539.8L427.2 542.3L433.2 547.3L439.2 554.3L445.3 562.4L451.3 569.4L456.3 572.4L461.3 572.4L466.4 568.4L471.4 562.8L477.4 559.9L483.4 559.3L489.5 557.9L495.5 556.3L499.5 556.7L504.5 559.3L510.6 563.4L515.6 571.4L520.6 582.5L525.7 592.5L530.7 601.5L535.7 608.2L541.7 611.6L548.8 615L554.8 616.6L559.8 615.6L565.9 611.6L571.9 603.6L576.9 594.5L581.9 587.5L588 580.4L592.2 577.3L595.5 577.1L601.5 576.5" stroke="#ff6d00" stroke-width="1.15" fill="none" stroke-linejoin="round"/>
<rect x="7" y="508" width="929" height="92" fill="rgba(153,21,255,0.2)"/>
<path d="M7 508.5H936M7 599.5H936" stroke="#5a5060" stroke-width="1" stroke-dasharray="6 5" fill="none"/>
<text id="t3" x="14.4" y="515.6" font-size="12.6" fill="#555" letter-spacing="-0.056">Stoch (25, 5, 10)</text>
</g>
<path d="M6 362.5H988M6 494.5H988M6 627.5H938M937.5 44V628" stroke="#555" stroke-width="1" fill="none"/>
<text x="944.6" y="67" class="ax">14.0000</text>
<text x="944.6" y="118" class="ax">12.0000</text>
<text x="944.6" y="170" class="ax">10.0000</text>
<text x="944.6" y="221" class="ax">8.0000</text>
<text x="944.6" y="272" class="ax">6.0000</text>
<text x="944.6" y="324" class="ax">4.0000</text>
<text x="944.6" y="377" class="ax">0.5000</text>
<text x="944.6" y="408" class="ax">0.0000</text>
<text x="944.6" y="440" class="ax">-0.5000</text>
<text x="944.6" y="471" class="ax">-1.0000</text>
<text x="944.6" y="513" class="ax">80.0000</text>
<text x="944.6" y="543" class="ax">60.0000</text>
<text x="944.6" y="574" class="ax">40.0000</text>
<text x="944.6" y="604" class="ax">20.0000</text>
<path d="M938 62.5h4M938 113.5h4M938 165.5h4M938 216.5h4M938 267.5h4M938 319.5h4M938 372.5h4M938 403.5h4M938 435.5h4M938 466.5h4M938 508.5h4M938 538.5h4M938 569.5h4M938 599.5h4M11.5 628v4M121.5 628v4M212.5 628v4M304.5 628v4M432.5 628v4M560.5 628v4M670.5 628v4M816.5 628v4" stroke="#555" stroke-width="1" fill="none"/>
<g clip-path="url(#c4)">
<text x="11" y="642" text-anchor="middle" class="ax">26</text>
<text x="121" y="642" text-anchor="middle" class="ax" font-weight="bold">Jun</text>
<text x="212" y="642" text-anchor="middle" class="ax">6</text>
<text x="304" y="642" text-anchor="middle" class="ax">11</text>
<text x="432" y="642" text-anchor="middle" class="ax">18</text>
<text x="560" y="642" text-anchor="middle" class="ax">25</text>
<text x="670" y="642" text-anchor="middle" class="ax" font-weight="bold">Jul</text>
<text x="816" y="642" text-anchor="middle" class="ax">9</text>
</g>
<rect x="937" y="216" width="45" height="16" fill="#38761d"/><path d="M937 223.5h3.500" stroke="#fff"/>
<text x="944.5" y="228" class="ax" font-weight="bold" fill="#fff" style="fill:#fff">7.7086</text>
<rect x="947" y="233" width="35" height="16" fill="#38761d"/>
<text x="950" y="245" class="ax" font-weight="bold" style="fill:#fff">49:56</text>
<!-- footer -->
<path d="M91.5 671.2C89.5 671.2 87.9 669.5 87.9 667.3C87.9 664.6 90 662.3 93 661.6C93.6 658.6 96.2 656.4 99.3 656.4C101.6 656.4 103.6 657.5 104.9 659.2C106.3 659.8 107.5 660.8 108.3 662C110.5 663.3 111.7 665.4 111.7 667.6C111.7 669.6 110.3 671.2 108.4 671.2Z" fill="#55c0e8"/>
<path d="M88.200 668.800L96.800 661.900L102.100 669.300L108.800 661.300" stroke="#f1f5f8" stroke-width="1.500" fill="none"/>
<rect x="194" y="649" width="38" height="34" fill="#fff"/>
<path d="M197 652h24.500l4.500 1.500l3 4.500v6l-2 4l-4.500 1.700h-11.500v-5.500h12.500v-6h-19.500v23h-7zM211 674h12l3 7h-15z" fill="#0c56a6"/>
<path d="M211 664.200h5l-3 5.500h-2zM211 674h5.500l-3 7h-2.500z" fill="#063d94"/>
</svg>
</body></html>
